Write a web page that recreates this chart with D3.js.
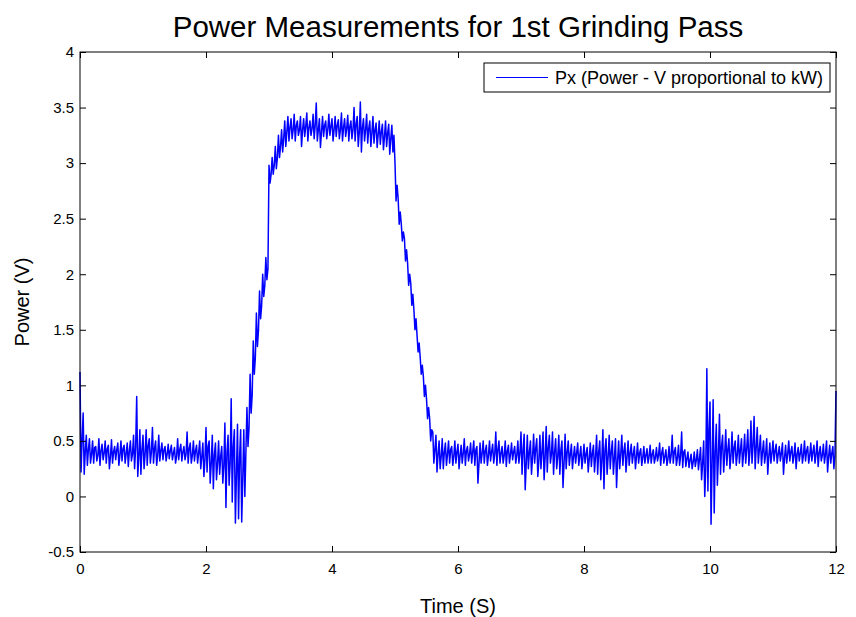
<!DOCTYPE html>
<html>
<head>
<meta charset="utf-8">
<script src="https://cdn.jsdelivr.net/npm/d3@7"></script>
<style>
  body { margin: 0; background: #fff; }
  text { font-family: "Liberation Sans", Arial, Helvetica, sans-serif; }
</style>
</head>
<body>
<div id="chart"></div>
<script>
// signal: per 0.05 s column, upper excursion, lower excursion
// and a typical in-band value (V)
const sampleStep = 0.05;
const highs = [
  1.12,0.75,0.55,0.52,0.5,0.45,0.52,0.47,0.5,0.46,
  0.51,0.45,0.48,0.5,0.46,0.48,0.5,0.55,0.9,0.6,
  0.55,0.6,0.52,0.62,0.5,0.55,0.48,0.45,0.47,0.46,
  0.44,0.52,0.47,0.45,0.58,0.48,0.5,0.46,0.5,0.48,
  0.62,0.5,0.55,0.48,0.5,0.45,0.66,0.55,0.88,0.6,
  0.65,0.6,0.6,0.8,1.1,1.4,1.65,1.85,2.0,2.15,
  2.98,3.05,3.15,3.25,3.3,3.38,3.42,3.4,3.44,3.38,
  3.42,3.4,3.45,3.38,3.44,3.54,3.4,3.42,3.38,3.44,
  3.4,3.42,3.39,3.45,3.4,3.43,3.38,3.5,3.42,3.55,
  3.4,3.44,3.38,3.42,3.36,3.38,3.35,3.38,3.35,3.34,
  3.0,2.68,2.45,2.32,2.1,1.92,1.68,1.45,1.25,1.08,
  0.88,0.7,0.58,0.55,0.5,0.52,0.48,0.5,0.45,0.5,
  0.47,0.46,0.52,0.45,0.48,0.5,0.45,0.48,0.5,0.46,
  0.5,0.47,0.58,0.5,0.45,0.5,0.46,0.48,0.45,0.5,
  0.58,0.56,0.55,0.5,0.56,0.52,0.55,0.58,0.63,0.55,
  0.58,0.52,0.55,0.5,0.56,0.5,0.47,0.45,0.48,0.45,
  0.47,0.44,0.48,0.46,0.55,0.5,0.6,0.52,0.55,0.5,
  0.52,0.5,0.55,0.48,0.5,0.47,0.45,0.48,0.43,0.45,
  0.43,0.46,0.42,0.44,0.48,0.44,0.42,0.45,0.55,0.44,
  0.46,0.58,0.42,0.4,0.38,0.4,0.42,0.44,0.5,1.15,
  0.85,0.87,0.65,0.74,0.55,0.6,0.52,0.58,0.5,0.55,
  0.52,0.56,0.6,0.68,0.72,0.62,0.55,0.5,0.52,0.48,
  0.5,0.47,0.45,0.48,0.46,0.5,0.45,0.48,0.44,0.47,
  0.5,0.45,0.48,0.46,0.5,0.45,0.47,0.5,0.46,0.45
];
const lows = [
  0.22,0.2,0.28,0.3,0.3,0.32,0.28,0.33,0.3,0.25,
  0.3,0.33,0.28,0.32,0.3,0.27,0.32,0.25,0.18,0.2,
  0.25,0.28,0.3,0.3,0.28,0.32,0.33,0.32,0.34,0.33,
  0.3,0.33,0.32,0.33,0.3,0.3,0.32,0.3,0.25,0.18,
  0.22,0.12,0.07,0.15,0.2,0.12,-0.1,0.1,-0.05,-0.24,
  -0.2,-0.23,0.0,0.45,0.75,1.1,1.35,1.6,1.8,1.95,
  2.82,2.9,2.95,3.05,3.1,3.15,3.2,3.22,3.2,3.25,
  3.15,3.24,3.2,3.25,3.22,3.2,3.14,3.24,3.22,3.25,
  3.2,3.24,3.22,3.2,3.24,3.2,3.22,3.2,3.15,3.1,
  3.2,3.18,3.15,3.18,3.14,3.17,3.12,3.15,3.08,3.1,
  2.66,2.45,2.3,2.12,1.9,1.72,1.5,1.3,1.1,0.9,
  0.7,0.5,0.3,0.22,0.25,0.25,0.28,0.3,0.28,0.3,
  0.25,0.3,0.28,0.32,0.3,0.28,0.12,0.3,0.3,0.28,
  0.32,0.3,0.28,0.3,0.3,0.27,0.3,0.33,0.3,0.3,
  0.2,0.06,0.25,0.2,0.3,0.18,0.25,0.15,0.22,0.3,
  0.2,0.25,0.2,0.08,0.25,0.28,0.25,0.3,0.28,0.25,
  0.3,0.22,0.27,0.22,0.2,0.15,0.07,0.2,0.25,0.2,
  0.08,0.25,0.28,0.22,0.28,0.3,0.25,0.3,0.28,0.3,
  0.3,0.3,0.3,0.32,0.28,0.3,0.28,0.3,0.3,0.28,
  0.28,0.26,0.27,0.26,0.25,0.27,0.24,0.15,0.0,0.05,
  -0.25,-0.15,0.1,0.2,0.22,0.28,0.25,0.3,0.28,0.3,
  0.27,0.3,0.28,0.3,0.25,0.3,0.28,0.3,0.2,0.3,
  0.32,0.3,0.32,0.2,0.3,0.32,0.3,0.25,0.32,0.3,
  0.32,0.3,0.32,0.3,0.27,0.32,0.3,0.22,0.3,0.25
];
const mids = [
  0.5,0.4,0.42,0.38,0.44,0.37,0.41,0.39,0.43,0.36,
  0.4,0.42,0.37,0.43,0.39,0.41,0.38,0.44,0.35,0.42,
  0.38,0.46,0.4,0.43,0.37,0.41,0.42,0.38,0.41,0.39,
  0.36,0.42,0.4,0.38,0.43,0.37,0.41,0.39,0.36,0.33,
  0.45,0.3,0.38,0.3,0.36,0.28,0.4,0.3,0.45,0.2,
  0.35,0.15,0.4,0.62,0.92,1.25,1.5,1.72,1.9,2.05,
  2.9,2.98,3.05,3.15,3.22,3.28,3.32,3.3,3.34,3.3,
  3.3,3.33,3.32,3.31,3.34,3.3,3.28,3.34,3.3,3.33,
  3.3,3.34,3.3,3.32,3.31,3.33,3.3,3.35,3.28,3.32,
  3.3,3.31,3.27,3.3,3.26,3.28,3.24,3.27,3.22,3.25,
  2.8,2.56,2.38,2.22,2.0,1.82,1.6,1.38,1.18,1.0,
  0.8,0.6,0.42,0.38,0.36,0.4,0.38,0.42,0.36,0.4,
  0.37,0.39,0.41,0.38,0.4,0.42,0.3,0.39,0.41,0.37,
  0.4,0.38,0.42,0.39,0.37,0.41,0.38,0.4,0.37,0.39,
  0.42,0.3,0.4,0.35,0.43,0.32,0.4,0.36,0.44,0.38,
  0.4,0.36,0.42,0.3,0.4,0.38,0.36,0.39,0.37,0.35,
  0.38,0.34,0.39,0.36,0.4,0.33,0.42,0.36,0.4,0.35,
  0.32,0.38,0.41,0.36,0.39,0.38,0.36,0.39,0.35,0.37,
  0.36,0.38,0.35,0.37,0.39,0.36,0.34,0.37,0.4,0.35,
  0.36,0.4,0.34,0.33,0.31,0.33,0.34,0.3,0.25,0.6,
  0.3,0.4,0.36,0.45,0.38,0.42,0.37,0.44,0.38,0.42,
  0.39,0.43,0.4,0.46,0.44,0.42,0.4,0.38,0.36,0.39,
  0.41,0.38,0.39,0.35,0.38,0.4,0.37,0.38,0.39,0.37,
  0.41,0.37,0.4,0.38,0.39,0.37,0.38,0.36,0.39,0.37
];
const endTime = 12;
const endValue = 0.95;

const xTicks = [0, 2, 4, 6, 8, 10, 12];
const yTicks = [-0.5, 0, 0.5, 1, 1.5, 2, 2.5, 3, 3.5, 4];
const yTickLabels = ["-0.5", "0", "0.5", "1", "1.5", "2", "2.5", "3", "3.5", "4"];

const titleText = "Power Measurements for 1st Grinding Pass";
const xLabel = "Time (S)";
const yLabel = "Power (V)";
const legendLabel = "Px (Power - V proportional to kW)";

const width = 856;
const height = 617;
const margin = { top: 52, right: 20, bottom: 65, left: 80 };
const plotW = width - margin.left - margin.right;
const plotH = height - margin.top - margin.bottom;

// each column: high at its start, then low, then the in-band value
const points = [];
highs.forEach((h, i) => {
  const t = i * sampleStep;
  points.push([t, h]);
  points.push([t + sampleStep / 3, lows[i]]);
  points.push([t + (2 * sampleStep) / 3, mids[i]]);
});
points.push([endTime, endValue]);

const svg = d3
  .select("#chart")
  .append("svg")
  .attr("width", width)
  .attr("height", height);

const g = svg
  .append("g")
  .attr("transform", `translate(${margin.left}, ${margin.top})`);

const x = d3.scaleLinear().domain([0, 12]).range([0, plotW]);
const y = d3.scaleLinear().domain([-0.5, 4]).range([plotH, 0]);

g.append("rect")
  .attr("width", plotW)
  .attr("height", plotH)
  .attr("fill", "#fff");

const line = d3
  .line()
  .x((d) => x(d[0]))
  .y((d) => y(d[1]));

g.append("path")
  .datum(points)
  .attr("fill", "none")
  .attr("stroke", "#0000ff")
  .attr("stroke-width", 1.5)
  .attr("stroke-linejoin", "round")
  .attr("d", line);

// axes with inward ticks, box on
const tickLen = 6;
const xAxis = d3.axisBottom(x).tickValues(xTicks).tickSizeInner(-tickLen).tickSizeOuter(0).tickPadding(11);
const yAxis = d3
  .axisLeft(y)
  .tickValues(yTicks)
  .tickFormat((d, i) => yTickLabels[i])
  .tickSizeInner(-tickLen)
  .tickSizeOuter(0)
  .tickPadding(6);

g.append("g").attr("transform", `translate(0, ${plotH})`).call(xAxis);
g.append("g").call(yAxis);
g.append("g")
  .call(d3.axisTop(x).tickValues(xTicks).tickSizeInner(-tickLen).tickSizeOuter(0).tickFormat(""));
g.append("g")
  .attr("transform", `translate(${plotW}, 0)`)
  .call(d3.axisRight(y).tickValues(yTicks).tickSizeInner(-tickLen).tickSizeOuter(0).tickFormat(""));

g.selectAll(".domain").remove();
g.selectAll(".tick line").attr("stroke", "#000");
g.selectAll(".tick text")
  .attr("fill", "#000")
  .style("font-size", "15px")
  .style("font-family", '"Liberation Sans", Arial, sans-serif');

g.append("rect")
  .attr("width", plotW)
  .attr("height", plotH)
  .attr("fill", "none")
  .attr("stroke", "#000")
  .attr("stroke-width", 1);

// legend
const legend = g.append("g").attr("transform", `translate(${484 - margin.left}, ${63 - margin.top})`);
legend
  .append("rect")
  .attr("width", 346)
  .attr("height", 29)
  .attr("fill", "#fff")
  .attr("stroke", "#000");
legend
  .append("line")
  .attr("x1", 12)
  .attr("x2", 64)
  .attr("y1", 14.5)
  .attr("y2", 14.5)
  .attr("stroke", "#0000ff")
  .attr("stroke-width", 1);
legend
  .append("text")
  .attr("x", 71)
  .attr("y", 20.5)
  .style("font-size", "18px")
  .text(legendLabel);

// titles
svg
  .append("text")
  .attr("x", margin.left + plotW / 2)
  .attr("y", 37)
  .attr("text-anchor", "middle")
  .style("font-size", "29.5px")
  .text(titleText);

svg
  .append("text")
  .attr("x", margin.left + plotW / 2)
  .attr("y", 613)
  .attr("text-anchor", "middle")
  .style("font-size", "20px")
  .text(xLabel);

svg
  .append("text")
  .attr("transform", `translate(29, ${margin.top + plotH / 2}) rotate(-90)`)
  .attr("text-anchor", "middle")
  .style("font-size", "20px")
  .text(yLabel);
</script>
</body>
</html>
